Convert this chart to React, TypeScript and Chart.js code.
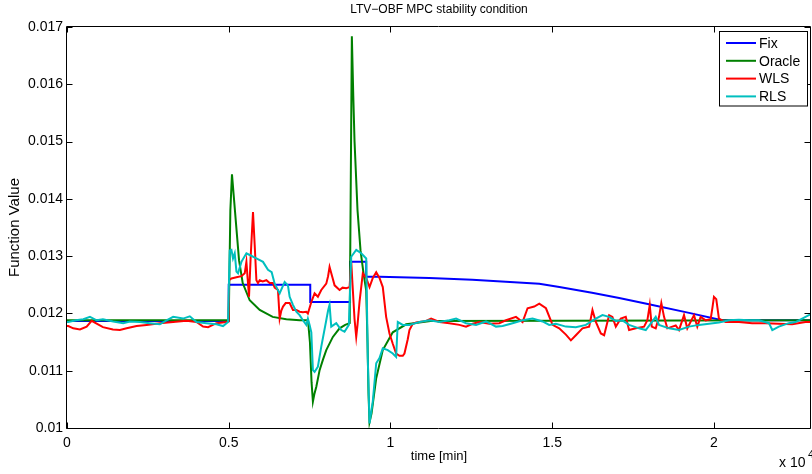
import React, { useEffect, useRef } from 'react';
import { Chart, registerables } from 'chart.js';

Chart.register(...registerables);

const FONT = '"Liberation Sans", Arial, Helvetica, sans-serif';

const titleText = 'LTV\u2212OBF MPC stability condition';
const xAxisLabel = 'time [min]';
const yAxisLabel = 'Function Value';
const xScaleNote = 'x 10';
const xScaleExp = '4';

const seriesNames = ['Fix', 'Oracle', 'WLS', 'RLS'];
const seriesColors = ['#0000ff', '#008000', '#ff0000', '#00bfbf'];

const xTickValues = [0, 5000, 10000, 15000, 20000];
const yTickValues = [0.01, 0.011, 0.012, 0.013, 0.014, 0.015, 0.016, 0.017];
const xRange = [0, 23000];
const yRange = [0.01, 0.017];

// [time, value]
const fixSeries: [number, number][] = [
  [0, 0.01187], [5000, 0.01187], [5000, 0.0125], [7520, 0.0125], [7520, 0.0122],
  [8750, 0.0122], [8750, 0.0129], [9250, 0.0129], [9250, 0.01264], [9660, 0.01264],
  [11200, 0.01262], [12530, 0.01259], [14600, 0.01252], [15220, 0.01246], [16230, 0.01236],
  [17070, 0.01227], [17990, 0.01216], [19230, 0.01201], [20250, 0.01188], [23000, 0.01188],
];

const oracleSeries: [number, number][] = [
  [0, 0.01188], [5000, 0.01188], [5050, 0.0138], [5100, 0.01443], [5216, 0.01363],
  [5318, 0.01293], [5432, 0.01253], [5648, 0.01223], [5957, 0.01206], [6358, 0.01194],
  [6781, 0.0119], [7191, 0.01188], [7450, 0.01188], [7510, 0.0115], [7560, 0.0108],
  [7602, 0.01046], [7650, 0.0106], [7707, 0.01072], [7809, 0.01101], [7910, 0.01119],
  [8015, 0.01136], [8219, 0.01159], [8426, 0.01174], [8600, 0.0118], [8740, 0.01183],
  [8775, 0.0145], [8806, 0.01684], [8850, 0.0158], [8889, 0.015], [8981, 0.0138],
  [9074, 0.0131], [9167, 0.0127], [9250, 0.0124], [9290, 0.0115], [9321, 0.0106],
  [9352, 0.0101], [9414, 0.01025], [9559, 0.01087], [9762, 0.01136], [10071, 0.01167],
  [10485, 0.01181], [11296, 0.01187], [23000, 0.01188],
];

const wlsSeries: [number, number][] = [
  [0, 0.01178], [40, 0.01178], [194, 0.01174], [401, 0.01172], [608, 0.01177], [762, 0.01187],
  [917, 0.01182], [1111, 0.01176], [1420, 0.01172], [1636, 0.01171], [1843, 0.01174],
  [2151, 0.01178], [2460, 0.0118], [2870, 0.01183], [3281, 0.01185], [3694, 0.01187],
  [4003, 0.01185], [4207, 0.01177], [4361, 0.01176], [4620, 0.01183], [4929, 0.01185],
  [4995, 0.01186], [5010, 0.01258], [5083, 0.01261], [5238, 0.01263], [5392, 0.01265],
  [5494, 0.0127], [5546, 0.0129], [5586, 0.0126], [5627, 0.01229], [5679, 0.013],
  [5750, 0.01377], [5802, 0.0132], [5855, 0.01258], [5904, 0.01253], [5957, 0.01258],
  [6049, 0.01256], [6163, 0.01258], [6265, 0.01253], [6367, 0.01253], [6420, 0.01245],
  [6522, 0.01241], [6574, 0.01191], [6626, 0.01205], [6678, 0.01212], [6760, 0.01218],
  [6883, 0.01218], [6985, 0.01206], [7090, 0.01206], [7191, 0.01203], [7293, 0.01202],
  [7398, 0.01203], [7447, 0.012], [7553, 0.0122], [7654, 0.01235], [7756, 0.01229],
  [7861, 0.01241], [8015, 0.01252], [8071, 0.01265], [8117, 0.01281], [8200, 0.01264],
  [8272, 0.01249], [8426, 0.01241], [8519, 0.01245], [8633, 0.01244], [8735, 0.01246],
  [8787, 0.0129], [8827, 0.0125], [8889, 0.0119], [8941, 0.01159], [8981, 0.0118],
  [9043, 0.0122], [9145, 0.0127], [9250, 0.01262], [9352, 0.01246], [9454, 0.01262],
  [9559, 0.01272], [9660, 0.01262], [9762, 0.01246], [9866, 0.01194], [9969, 0.01165],
  [10071, 0.01147], [10175, 0.0113], [10278, 0.01126], [10381, 0.01126], [10432, 0.0113],
  [10534, 0.01155], [10586, 0.01171], [10688, 0.01182], [10793, 0.01184], [11102, 0.01187],
  [11256, 0.01191], [11512, 0.01185], [11821, 0.01183], [12130, 0.0118], [12336, 0.01177],
  [12540, 0.01182], [12747, 0.01185], [13056, 0.01182], [13364, 0.01183], [13571, 0.01188],
  [13880, 0.01194], [14083, 0.01185], [14238, 0.01209], [14444, 0.01212], [14599, 0.01217],
  [14806, 0.01209], [15010, 0.0118], [15216, 0.01174], [15423, 0.01163], [15577, 0.01153],
  [15731, 0.01162], [15935, 0.01174], [16142, 0.01177], [16244, 0.01206], [16349, 0.01185],
  [16503, 0.01165], [16605, 0.01162], [16759, 0.01197], [16861, 0.01194], [16966, 0.01177],
  [17120, 0.01191], [17274, 0.01194], [17376, 0.01171], [17583, 0.01174], [17839, 0.01177],
  [17941, 0.01188], [18015, 0.01215], [18077, 0.01177], [18200, 0.01174], [18302, 0.01194],
  [18373, 0.01218], [18457, 0.01194], [18558, 0.01174], [18713, 0.01177], [18818, 0.01179],
  [18920, 0.01171], [19074, 0.01197], [19176, 0.01174], [19383, 0.01197], [19485, 0.01177],
  [19589, 0.01194], [19743, 0.01188], [19898, 0.0119], [19953, 0.0121], [20000, 0.01229],
  [20071, 0.01225], [20154, 0.01191], [20361, 0.01185], [20772, 0.01185], [21182, 0.01183],
  [21596, 0.01183], [22006, 0.01182], [22417, 0.01181], [22830, 0.01185], [23000, 0.01185],
];

const rlsSeries: [number, number][] = [
  [0, 0.01185], [40, 0.01185], [278, 0.01188], [503, 0.0119], [710, 0.01194], [917, 0.01188],
  [1111, 0.0119], [1429, 0.01186], [1738, 0.01183], [1944, 0.01186], [2253, 0.01185],
  [2562, 0.01183], [2870, 0.01181], [3077, 0.01188], [3281, 0.01194], [3589, 0.01191],
  [3796, 0.01195], [4003, 0.01185], [4312, 0.01183], [4620, 0.01181], [4824, 0.01178],
  [4978, 0.01185], [5031, 0.0131], [5083, 0.01311], [5132, 0.01296], [5185, 0.01305],
  [5238, 0.01273], [5287, 0.0127], [5392, 0.0129], [5546, 0.01305], [5648, 0.01302],
  [5855, 0.01296], [6059, 0.0129], [6213, 0.01276], [6327, 0.01272], [6420, 0.01252],
  [6574, 0.01235], [6728, 0.01255], [6830, 0.01249], [6883, 0.01229], [6985, 0.01215],
  [7090, 0.01203], [7191, 0.01197], [7293, 0.01188], [7398, 0.0118], [7447, 0.01191],
  [7500, 0.0118], [7553, 0.01167], [7602, 0.01101], [7654, 0.01098], [7756, 0.01107],
  [7861, 0.01142], [8015, 0.01188], [8071, 0.01205], [8117, 0.01215], [8169, 0.01177],
  [8323, 0.01183], [8478, 0.01171], [8580, 0.01168], [8713, 0.0118], [8787, 0.01299],
  [8941, 0.01311], [9095, 0.01305], [9250, 0.01296], [9299, 0.0112], [9352, 0.01008],
  [9454, 0.01047], [9559, 0.01113], [9660, 0.01122], [9762, 0.01139], [9916, 0.01136],
  [10071, 0.0113], [10175, 0.01124], [10226, 0.01185], [10381, 0.0118], [10586, 0.0118],
  [10895, 0.01185], [11204, 0.01188], [11512, 0.01185], [11821, 0.01188], [12028, 0.01191],
  [12336, 0.01183], [12645, 0.0118], [12953, 0.01186], [13262, 0.01177], [13466, 0.01178],
  [13775, 0.01183], [14083, 0.01188], [14392, 0.01191], [14701, 0.01186], [14907, 0.0118],
  [15114, 0.01182], [15423, 0.01177], [15731, 0.01176], [16040, 0.0118], [16349, 0.01191],
  [16553, 0.01197], [16759, 0.01194], [16966, 0.01187], [17170, 0.01188], [17376, 0.0118],
  [17685, 0.01174], [17892, 0.01171], [18097, 0.01186], [18200, 0.01194], [18302, 0.0118],
  [18611, 0.01174], [18920, 0.01171], [19228, 0.01177], [19537, 0.0118], [19846, 0.01182],
  [20154, 0.01184], [20463, 0.01188], [20772, 0.01189], [21081, 0.01188], [21392, 0.01188],
  [21701, 0.01183], [21803, 0.01171], [22006, 0.01177], [22315, 0.01183], [22522, 0.01185],
  [22727, 0.01191], [22932, 0.01197], [23000, 0.01198],
];

const allSeries = [fixSeries, oracleSeries, wlsSeries, rlsSeries];

const matlabAxesPlugin = {
  id: 'matlabAxes',
  afterDraw(chart: any) {
    const ctx = chart.ctx as CanvasRenderingContext2D;
    const { left, right, top, bottom } = chart.chartArea;
    const xs = chart.scales.x;
    const ys = chart.scales.y;
    ctx.save();
    ctx.strokeStyle = '#000';
    ctx.lineWidth = 1;
    const L = Math.round(left) - 0.5;
    const R = Math.round(right) - 0.5;
    const T = Math.round(top) - 0.5;
    const B = Math.round(bottom) + 0.5;
    ctx.beginPath();
    ctx.rect(L, T, R - L, B - T);
    ctx.stroke();
    const tl = 6;
    ctx.beginPath();
    xs.ticks.forEach((t: any) => {
      const px = Math.round(xs.getPixelForValue(t.value)) + 0.5;
      ctx.moveTo(px, B); ctx.lineTo(px, B - tl);
      ctx.moveTo(px, T); ctx.lineTo(px, T + tl);
    });
    ys.ticks.forEach((t: any) => {
      const py = Math.round(ys.getPixelForValue(t.value)) + 0.5;
      ctx.moveTo(L, py); ctx.lineTo(L + tl, py);
      ctx.moveTo(R, py); ctx.lineTo(R - tl, py);
    });
    ctx.stroke();

    ctx.fillStyle = '#000';
    // title
    ctx.font = `12px ${FONT}`;
    ctx.textAlign = 'center';
    ctx.textBaseline = 'middle';
    ctx.fillText(titleText, (left + right) / 2, 10);
    // x label
    ctx.font = `13px ${FONT}`;
    ctx.fillText(xAxisLabel, (left + right) / 2, 456);
    // y label
    ctx.save();
    ctx.translate(15, (top + bottom) / 2);
    ctx.rotate(-Math.PI / 2);
    ctx.font = `15px ${FONT}`;
    ctx.fillText(yAxisLabel, 0, 0);
    ctx.restore();
    // exponent note
    ctx.font = `14px ${FONT}`;
    ctx.textAlign = 'left';
    ctx.textBaseline = 'alphabetic';
    ctx.fillText(xScaleNote, 779, 467);
    ctx.font = `11px ${FONT}`;
    ctx.fillText(xScaleExp, 808, 458);

    // legend
    const bx = 719.5, by = 31.5, bw = 88, bh = 74.5;
    ctx.fillStyle = '#fff';
    ctx.fillRect(bx, by, bw, bh);
    ctx.strokeStyle = '#000';
    ctx.lineWidth = 1;
    ctx.strokeRect(bx, by, bw, bh);
    ctx.font = `14px ${FONT}`;
    ctx.textBaseline = 'middle';
    chart.data.datasets.forEach((ds: any, i: number) => {
      const ry = 43 + i * 17.8;
      ctx.strokeStyle = ds.borderColor;
      ctx.lineWidth = 2;
      ctx.beginPath();
      ctx.moveTo(726, ry);
      ctx.lineTo(756, ry);
      ctx.stroke();
      ctx.fillStyle = '#000';
      ctx.fillText(ds.label, 759, ry + 1);
    });
    ctx.restore();
  },
};

export default function App() {
  const canvasRef = useRef<HTMLCanvasElement | null>(null);
  useEffect(() => {
    const canvas = canvasRef.current;
    if (!canvas) return;
    const chart = new Chart(canvas, {
      type: 'line',
      data: {
        datasets: allSeries.map((s, i) => ({
          label: seriesNames[i],
          data: s.map(([x, y]) => ({ x, y })),
          borderColor: seriesColors[i],
          backgroundColor: seriesColors[i],
          borderWidth: 2,
          pointRadius: 0,
          tension: 0,
          fill: false,
          order: 4 - i,
        })),
      },
      options: {
        animation: false,
        responsive: false,
        devicePixelRatio: 1,
        layout: { padding: { left: 0, right: 1, top: 27, bottom: 0 } },
        plugins: {
          legend: { display: false },
          title: { display: false },
          tooltip: { enabled: false },
        },
        scales: {
          x: {
            type: 'linear',
            min: xRange[0],
            max: xRange[1],
            afterFit: (s: any) => { s.height = 46; },
            afterBuildTicks: (s: any) => { s.ticks = xTickValues.map((v) => ({ value: v })); },
            grid: { display: false, drawTicks: false },
            border: { display: false },
            ticks: {
              padding: 7,
              color: '#000',
              font: { family: FONT, size: 14 },
              maxRotation: 0,
              autoSkip: false,
              callback: (v: any) => String(Number(v) / 10000),
            },
          },
          y: {
            type: 'linear',
            min: yRange[0],
            max: yRange[1],
            afterFit: (s: any) => { s.width = 67; },
            afterBuildTicks: (s: any) => { s.ticks = yTickValues.map((v) => ({ value: v })); },
            grid: { display: false, drawTicks: false },
            border: { display: false },
            ticks: {
              padding: 4,
              color: '#000',
              font: { family: FONT, size: 14 },
              autoSkip: false,
              callback: (v: any) => String(Number(Number(v).toFixed(3))),
            },
          },
        },
      },
      plugins: [matlabAxesPlugin],
    });
    return () => chart.destroy();
  }, []);
  return (
    <div style={{ position: 'absolute', left: 0, top: 0, width: 812, height: 474, background: '#fff' }}>
      <canvas ref={canvasRef} width={812} height={474} style={{ display: 'block' }} />
    </div>
  );
}
